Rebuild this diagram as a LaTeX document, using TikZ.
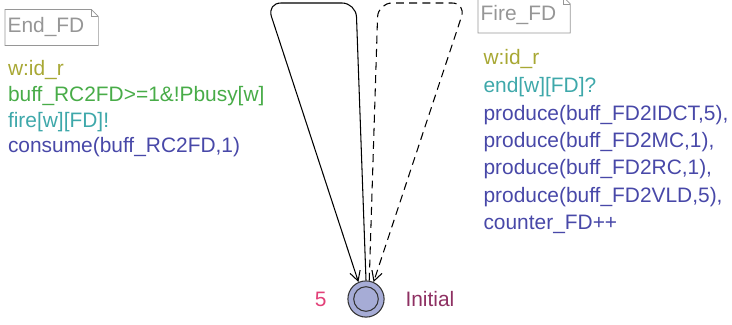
\documentclass[tikz,border=0pt]{standalone}
\usepackage{fontspec}
\setmainfont{Liberation Sans}
\usepackage{tikz}
\usetikzlibrary{positioning, arrows.meta}

\definecolor{selcol}{RGB}{168,168,52}
\definecolor{guardcol}{RGB}{72,172,72}
\definecolor{synccol}{RGB}{62,168,170}
\definecolor{updcol}{RGB}{72,72,168}
\definecolor{namecol}{RGB}{150,150,150}
\definecolor{loccol}{RGB}{166,172,214}
\definecolor{invcol}{RGB}{226,64,120}
\definecolor{lnamecol}{RGB}{142,48,98}

\begin{document}
\begin{tikzpicture}[x=0.02cm, y=-0.02cm, >={Straight Barb[length=5.5pt,width=6pt]}, semithick,
    lbl/.style={anchor=base west, inner sep=0pt, font=\fontsize{11.9pt}{14pt}\selectfont},
    tname/.style={anchor=west, inner xsep=1.2pt, inner ysep=0pt, minimum height=20pt,
        text=namecol, font=\fontsize{11.9pt}{14pt}\selectfont},
    tbox/.style={draw=namecol, thin},
    location/.style={circle, draw=black!80, fill=loccol, minimum size=20.6pt, inner sep=0pt},
    ring/.style={circle, draw=black!80, minimum size=14pt, inner sep=0pt},
    dashedge/.style={dash pattern=on 4.5pt off 3pt}]
\useasboundingbox (0,0) rectangle (732,324);

% the location
\node[location] (init) at (366,299) {};
\node[ring] (initring) at (init.center) {};
\node[lbl, text=invcol, anchor=base east] (inv) at (327,306) {5};
\node[lbl, text=lnamecol] (initname) at (405,306) {Initial};

% nails of the two self loops
\coordinate (endtr) at (356,3);
\coordinate (endtl) at (267,3);
\coordinate (firetl) at (378,3);
\coordinate (firetr) at (466,3);

\draw[->, rounded corners=8pt] (init.north) -- (endtr) -- (endtl) -- (init.114);
\draw[->, dashedge, rounded corners=8pt] (init.80) -- (firetl) -- (firetr) -- (init.66);

% labels of the left loop
\node[tname] (endname) at (5,27.5) {End\_FD};
\draw[tbox] (endname.south west) -- (endname.north west) -- ([xshift=2.5pt]endname.north east)
    -- ([xshift=6.5pt,yshift=-4pt]endname.north east) -- ([xshift=6.5pt]endname.south east) -- cycle;
\draw[tbox] ([xshift=2.5pt]endname.north east) -- ([xshift=2.5pt,yshift=-4pt]endname.north east)
    -- ([xshift=6.5pt,yshift=-4pt]endname.north east);
\node[lbl, text=selcol] (endsel) at (7.5,76) {w:id\_r};
\node[lbl, text=guardcol, below=0.512cm of endsel.base west, anchor=base west] (endguard) {buff\_RC2FD>=1\&!Pbusy[w]};
\node[lbl, text=synccol, below=0.512cm of endguard.base west, anchor=base west] (endsync) {fire[w][FD]!};
\node[lbl, text=updcol, below=0.512cm of endsync.base west, anchor=base west] (endupd) {consume(buff\_RC2FD,1)};

% labels of the right loop
\node[tname] (firename) at (478,15) {Fire\_FD};
\draw[tbox] (firename.south west) -- (firename.north west) -- ([xshift=2.5pt]firename.north east)
    -- ([xshift=6.5pt,yshift=-4pt]firename.north east) -- ([xshift=6.5pt]firename.south east) -- cycle;
\draw[tbox] ([xshift=2.5pt]firename.north east) -- ([xshift=2.5pt,yshift=-4pt]firename.north east)
    -- ([xshift=6.5pt,yshift=-4pt]firename.north east);
\node[lbl, text=selcol] (firesel) at (483,65) {w:id\_r};
\node[lbl, text=synccol, below=0.546cm of firesel.base west, anchor=base west] (firesync) {end[w][FD]?};
\node[lbl, text=updcol, below=0.56cm of firesync.base west, anchor=base west] (fireupda) {produce(buff\_FD2IDCT,5),};
\node[lbl, text=updcol, below=0.546cm of fireupda.base west, anchor=base west] (fireupdb) {produce(buff\_FD2MC,1),};
\node[lbl, text=updcol, below=0.546cm of fireupdb.base west, anchor=base west] (fireupdc) {produce(buff\_FD2RC,1),};
\node[lbl, text=updcol, below=0.546cm of fireupdc.base west, anchor=base west] (fireupdd) {produce(buff\_FD2VLD,5),};
\node[lbl, text=updcol, below=0.546cm of fireupdd.base west, anchor=base west] (fireupde) {counter\_FD++};
\end{tikzpicture}
\end{document}
